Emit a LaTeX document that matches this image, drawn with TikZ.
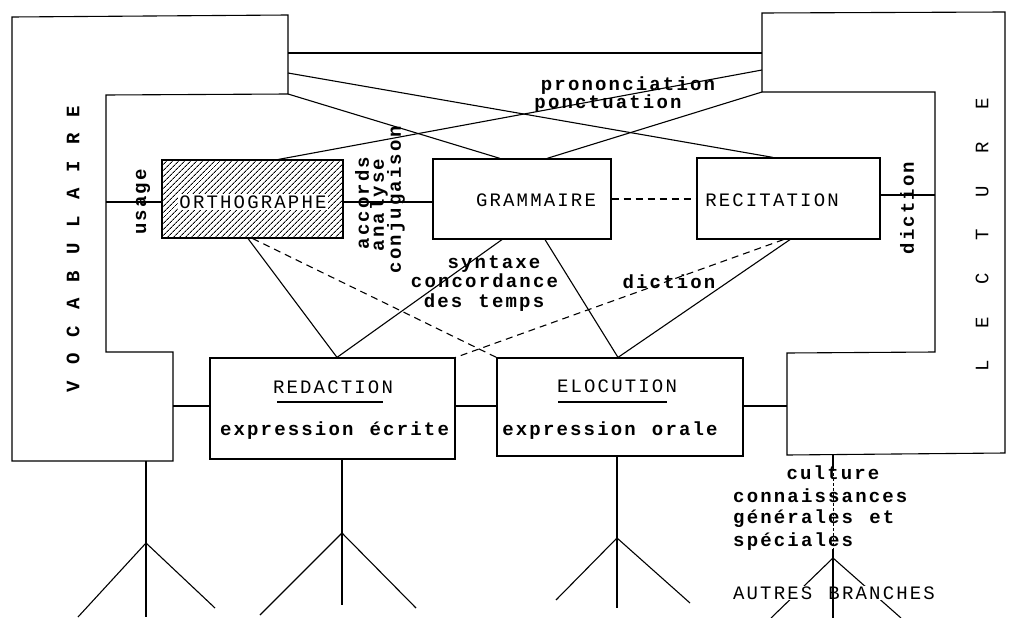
\documentclass[tikz,border=0pt]{standalone}
\usepackage{fontspec}
\newfontfamily\tw[LetterSpace=11.4,WordSpace={1.19,0,0}]{Liberation Mono}
\usetikzlibrary{patterns.meta}
\newcommand\twfont{\tw\fontsize{19}{21}\selectfont}
\begin{document}
\begin{tikzpicture}[x=1pt,y=-1pt,
  ln/.style={line width=1.1pt},
  dsh/.style={line width=1.1pt, dash pattern=on 7pt off 5pt},
  thindash/.style={line width=0.6pt, dash pattern=on 3pt off 2pt},
  box/.style={draw, line width=1.2pt, inner sep=0pt},
  lab/.style={font=\twfont, inner sep=0pt},
  blab/.style={font=\twfont\bfseries, inner sep=0pt},
  uline/.style={line width=2.2pt}
]
\useasboundingbox[fill=white] (0,0) rectangle (1020,618);

% ---------- VOCABULAIRE shape ----------
\coordinate (L1) at (12,17);
\coordinate (L2) at (288,15);
\coordinate (L3) at (288,94);
\coordinate (L4) at (106,95);
\coordinate (L5) at (106,352);
\coordinate (L6) at (173,352);
\coordinate (L7) at (173,461);
\coordinate (L8) at (12,461);
\draw[ln, line join=miter] (L1) -- (L2) -- (L3) -- (L4) -- (L5) -- (L6) -- (L7) -- (L8) -- cycle;

% ---------- LECTURE shape ----------
\coordinate (R1) at (762,13);
\coordinate (R2) at (1005,12);
\coordinate (R3) at (1005,453);
\coordinate (R4) at (787,455);
\coordinate (R5) at (787,353);
\coordinate (R6) at (935,352);
\coordinate (R7) at (935,92);
\coordinate (R8) at (762,92);
\draw[ln, line join=miter] (R1) -- (R2) -- (R3) -- (R4) -- (R5) -- (R6) -- (R7) -- (R8) -- cycle;

% connection points on the big shapes
\coordinate (la) at (288,53);
\coordinate (lb) at (288,73);
\coordinate (ra) at (762,53);
\coordinate (rb) at (762,70);
\coordinate (s1) at (146,461);
\coordinate (s4) at (833,454);

% ---------- boxes ----------
\node[box, line width=2pt, minimum width=181pt, minimum height=78pt,
      pattern={Lines[angle=45,distance=4pt,line width=1pt]}] (orth) at (252.5,199) {};
\node[box, minimum width=178pt, minimum height=80pt] (gram) at (522,199) {};
\node[box, minimum width=183pt, minimum height=81pt] (rec) at (788.5,198.5) {};
\node[box, minimum width=245pt, minimum height=101pt] (red) at (332.5,408.5) {};
\node[box, minimum width=246pt, minimum height=98pt] (elo) at (620,407) {};

% ---------- top connectors ----------
\draw[ln] (la) -- (ra);
\draw[ln] (lb) -- ([xshift=-15.5pt]rec.north);
\draw[ln] (L3) -- ([xshift=-22pt]gram.north);
\draw[ln] (rb) -- ([xshift=25.5pt]orth.north);
\draw[ln] (R8) -- ([xshift=25pt]gram.north);

% ---------- horizontal connectors ----------
\draw[ln] ([yshift=-3pt]orth.west) -- ([yshift=-3pt]orth.west -| L4);
\draw[ln] ([yshift=-3pt]orth.east) -- ([yshift=-3pt]orth.east -| gram.west);
\draw[dsh] (gram.east) -- (gram.east -| rec.west);
\draw[ln] ([yshift=3.5pt]rec.east) -- ([yshift=3.5pt]rec.east -| R6);
\draw[ln] ([yshift=2.5pt]red.west) -- ([yshift=2.5pt]red.west -| L6);
\draw[ln] ([yshift=2.5pt]red.east) -- ([yshift=2.5pt]red.east -| elo.west);
\draw[ln] ([yshift=1pt]elo.east) -- ([yshift=1pt]elo.east -| R5);

% ---------- diagonal connectors ----------
\draw[ln] ([xshift=-4.5pt]orth.south) -- ([xshift=4.5pt]red.north);
\draw[dsh] (orth.south) -- (elo.north west);
\draw[ln] ([xshift=-20pt]gram.south) -- ([xshift=4.5pt]red.north);
\draw[ln] ([xshift=23pt]gram.south) -- ([xshift=-2pt]elo.north);
\draw[ln] ([xshift=1.5pt]rec.south) -- ([xshift=-2pt]elo.north);
\draw[dsh] ([xshift=-5pt]rec.south) -- (red.north east);

% ---------- box texts ----------
\node[lab, fill=white, inner sep=1.5pt] (orthT) at (253,202) {ORTHOGRAPHE};
\node[lab] (gramT) at (536,200) {GRAMMAIRE};
\node[lab] (recT) at (772,200) {RECITATION};
\node[lab] (redT) at (333,387) {REDACTION};
\node[blab, anchor=base] (redE) at (334.5,435) {expression écrite};
\node[lab] (eloT) at (617,386) {ELOCUTION};
\node[blab, anchor=base] (eloE) at (610,435) {expression orale};
\draw[uline] (277,402) -- (383,402);
\draw[uline] (558,402) -- (667,402);

% ---------- labels ----------
\node[blab, rotate=90] (voc) at (73,249) {V O C A B U L A I R E};
\node[lab, rotate=90] (lec) at (982,235) {L~~E~~C~~T~~U~~R~~E};
\node[blab, rotate=90] (usage) at (143,202) {usage};
\node[blab, rotate=90] (acc) at (362,203) {accords};
\node[blab, rotate=90] (ana) at (379,205) {analyse};
\node[blab, rotate=90] (conj) at (396,200) {conjugaison};
\node[blab, rotate=90] (dicR) at (907,208) {diction};
\node[blab, anchor=base] (pron) at (628,91) {prononciation};
\node[blab, anchor=base] (ponc) at (608,108) {ponctuation};
\node[blab, anchor=base] (syn1) at (494,268) {syntaxe};
\node[blab, anchor=base] (syn2) at (484.5,287) {concordance};
\node[blab, anchor=base] (syn3) at (484,307) {des temps};
\node[blab, anchor=base] (dicM) at (669,288) {diction};

% ---------- bottom forks ----------
\coordinate (f1a) at (146,543);
\coordinate (f1b) at (146,617);
\coordinate (f1l) at (78,617);
\coordinate (f1r) at (215,608);
\draw[ln] (s1) -- (f1b);
\draw[ln] (f1l) -- (f1a) -- (f1r);

\coordinate (f2a) at (342,533);
\coordinate (f2b) at (342,605);
\coordinate (f2l) at (260,615);
\coordinate (f2r) at (416,608);
\draw[ln] ([xshift=9.5pt]red.south) -- (f2b);
\draw[ln] (f2l) -- (f2a) -- (f2r);

\coordinate (f3a) at (617,538);
\coordinate (f3b) at (617,608);
\coordinate (f3l) at (556,600);
\coordinate (f3r) at (690,603);
\draw[ln] ([xshift=-3pt]elo.south) -- (f3b);
\draw[ln] (f3l) -- (f3a) -- (f3r);

\coordinate (f4a) at (833,558);
\coordinate (f4b) at (833,618);
\coordinate (f4l) at (771,618);
\coordinate (f4r) at (901,618);
\coordinate (f4c) at (833,468);
\coordinate (f4d) at (833,549);
\draw[ln] (f4l) -- (f4a) -- (f4r);

\node[blab, anchor=base] (cul) at (833,479) {culture};
\node[blab, anchor=base west] (con) at (733,502) {connaissances};
\node[blab, anchor=base west] (gen) at (733,523) {générales et};
\node[blab, anchor=base west] (spe) at (733,546) {spéciales};
\node[lab, fill=white, inner sep=1pt] (aut) at (834,593) {AUTRES BRANCHES};

\draw[ln] (s4) -- (f4c);
\draw[thindash] (f4c) -- (f4d);
\draw[ln] (f4d) -- (f4b);
\end{tikzpicture}
\end{document}
